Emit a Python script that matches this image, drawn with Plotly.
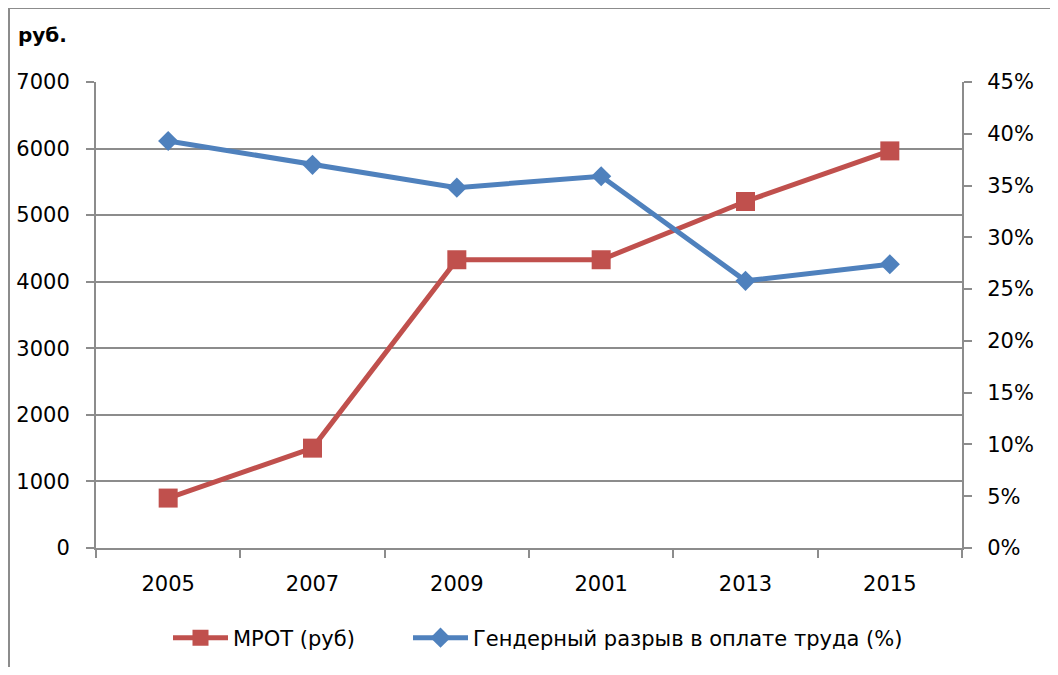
import plotly.graph_objects as go

years = ["2005", "2007", "2009", "2001", "2013", "2015"]
mrot = [750, 1500, 4330, 4330, 5205, 5965]
gap = [0.393, 0.370, 0.348, 0.359, 0.258, 0.274]

RED = "#C0504D"
BLUE = "#4F81BD"
GRID = "#8C8C8C"
FONT = "DejaVu Sans"

W, H = 1042, 659
L, R, T, B = 88, 88, 74, 119
PW, PH = W - L - R, H - T - B


def px(xf):
    return (xf - L) / PW


def py(yf):
    return 1 + (T - yf) / PH


fig = go.Figure()
fig.add_trace(go.Scatter(
    x=years, y=mrot, name="МРОТ (руб)", mode="lines+markers",
    line=dict(color=RED, width=5),
    marker=dict(symbol="square", size=19, color=RED),
    yaxis="y", legend="legend"))
fig.add_trace(go.Scatter(
    x=years, y=gap, name="Гендерный разрыв в оплате труда (%)", mode="lines+markers",
    line=dict(color=BLUE, width=5),
    marker=dict(symbol="diamond", size=15.5, color=BLUE),
    yaxis="y2", legend="legend2"))

leg_common = dict(orientation="h", xanchor="left", y=py(630), yanchor="middle",
                  font=dict(size=21), itemwidth=55, bgcolor="rgba(0,0,0,0)")

fig.update_layout(
    width=W, height=H,
    margin=dict(l=L, r=R, t=T, b=B, autoexpand=False),
    paper_bgcolor="white", plot_bgcolor="white",
    font=dict(family=FONT, size=21, color="black"),
    showlegend=True,
    legend=dict(x=px(160), **leg_common),
    legend2=dict(x=px(400), **leg_common),
    xaxis=dict(type="category", range=[-0.5, len(years) - 0.5], showgrid=False,
               showline=True, linecolor=GRID, linewidth=2,
               ticks="outside", tickson="boundaries", ticklen=8, tickcolor=GRID, tickwidth=2,
               zeroline=False, ticklabelstandoff=16, automargin=False),
    yaxis=dict(range=[0, 7000], dtick=1000, showgrid=True, gridcolor=GRID, gridwidth=2,
               showline=True, linecolor=GRID, linewidth=2, ticks="outside", ticklen=8,
               tickcolor=GRID, tickwidth=2, zeroline=False, ticklabelstandoff=12,
               automargin=False),
    yaxis2=dict(range=[0, 0.45], dtick=0.05, tickformat=".0%", overlaying="y", side="right",
                showgrid=False, showline=True, linecolor=GRID, linewidth=2, ticks="outside",
                ticklen=8, tickcolor=GRID, tickwidth=2, zeroline=False, ticklabelstandoff=11,
                automargin=False),
    annotations=[dict(text="<b>руб.</b>", xref="paper", yref="paper", x=px(8), y=py(27),
                      xanchor="left", yanchor="middle", showarrow=False,
                      font=dict(size=20))],
    shapes=[
        dict(type="line", xref="paper", yref="paper", x0=px(0), x1=px(W), y0=py(0), y1=py(0),
             line=dict(color=GRID, width=2)),
        dict(type="line", xref="paper", yref="paper", x0=px(1), x1=px(1), y0=py(0), y1=py(H),
             line=dict(color=GRID, width=2)),
    ],
)

fig.write_html("out.html")
